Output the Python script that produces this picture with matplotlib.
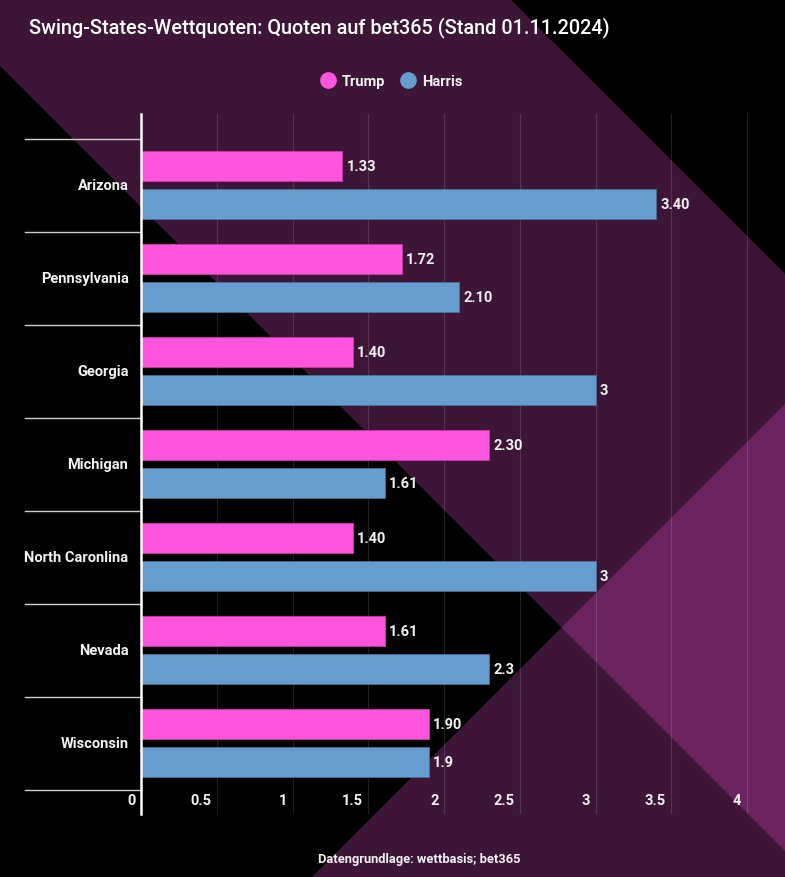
import numpy as np
import matplotlib
matplotlib.use("Agg")
import matplotlib.pyplot as plt
from matplotlib.lines import Line2D
import matplotlib.transforms as mtransforms

plt.rcParams['font.family'] = ['Roboto', 'DejaVu Sans']

# Daten
states = ["Arizona", "Pennsylvania", "Georgia", "Michigan", "North Caronlina", "Nevada", "Wisconsin"]
trump = [1.33, 1.72, 1.40, 2.30, 1.40, 1.61, 1.90]
harris = [3.40, 2.10, 3.0, 1.61, 3.0, 2.3, 1.9]
trump_labels = ["1.33", "1.72", "1.40", "2.30", "1.40", "1.61", "1.90"]
harris_labels = ["3.40", "2.10", "3", "1.61", "3", "2.3", "1.9"]
xticks = [0, 0.5, 1, 1.5, 2, 2.5, 3, 3.5, 4]
xtick_labels = ["0", "0.5", "1", "1.5", "2", "2.5", "3", "3.5", "4"]

PINK = "#ff55de"
BLUE = "#679dce"
DARK = "#3d1537"
BRIGHT = "#6b2460"
TXT = "#f2f2f2"

W, H = 785, 878
fig = plt.figure(figsize=(W / 100, H / 100), dpi=100, facecolor="black")

# Hintergrund: eigene Achse in Pixelkoordinaten (y von oben)
bg = fig.add_axes([0, 0, 1, 1], zorder=-5)
bg.set_xlim(0, W)
bg.set_ylim(H, 0)
bg.axis("off")
bg.fill([0, 510, 785, 785, 0], [0, 0, 275, 852, 67], color=DARK, lw=0)
bg.fill([312, 785, 785], [878, 405, 878], color=DARK, lw=0)
bg.fill([561.5, 785, 785], [628.5, 405, 852], color=BRIGHT, lw=0)

ax = fig.add_axes([141 / W, 1 - 815 / H, 1 - 141 / W, (815 - 115) / H])
ax.set_facecolor("none")

y = np.arange(len(states))
off = 0.205
hgt = 0.325
ax.barh(y - off, trump, height=hgt, color=PINK, edgecolor="#c83aa8", linewidth=0.6, zorder=3)
ax.barh(y + off, harris, height=hgt, color=BLUE, edgecolor="#4a6f98", linewidth=0.6, zorder=3)

for i in range(len(states)):
    ax.annotate(trump_labels[i], xy=(trump[i], y[i] - off), xytext=(3, 0), textcoords="offset points",
                va="center", ha="left", color=TXT, fontsize=10.5, fontweight="bold")
    ax.annotate(harris_labels[i], xy=(harris[i], y[i] + off), xytext=(3, 0), textcoords="offset points",
                va="center", ha="left", color=TXT, fontsize=10.5, fontweight="bold")

ax.set_xlim(0, (W - 141) / 151.5)
ax.set_ylim((815 - 186) / 93, -(186 - 115) / 93)

ax.set_xticks(xticks)
ax.set_xticklabels([])
ax.set_yticks([])
ax.tick_params(axis="x", length=0)
ax.xaxis.grid(True, color="white", alpha=0.13, linewidth=0.8)
ax.set_axisbelow(True)
for s in ["top", "right", "bottom"]:
    ax.spines[s].set_visible(False)
ax.spines["left"].set_color("white")
ax.spines["left"].set_linewidth(1.8)
ax.spines["left"].set_zorder(4)

for t, lab in zip(xticks, xtick_labels):
    ax.annotate(lab, xy=(t, 0), xycoords=("data", "axes fraction"), xytext=(-4, 5),
                textcoords="offset points", ha="right", va="bottom", color=TXT,
                fontsize=10.5, fontweight="bold")

# Kategorien und Trennlinien links
trans = mtransforms.blended_transform_factory(ax.transAxes, ax.transData)
x_left = (25 - 141) / (W - 141)
for b in np.arange(-0.5, len(states), 1.0):
    ax.plot([x_left, 0], [b, b], transform=trans, color="#d0d0d0", linewidth=1, clip_on=False)
for i, s in enumerate(states):
    ax.annotate(s, xy=(0, y[i]), xycoords=trans, xytext=(-9, 0), textcoords="offset points",
                ha="right", va="center", color=TXT, fontsize=10.5, fontweight="bold")

# Titel, Legende, Quelle
fig.text(29 / W, 1 - 28 / H, "Swing-States-Wettquoten: Quoten auf bet365 (Stand 01.11.2024)",
         color="white", fontsize=14.3, fontweight="medium", ha="left", va="center")

handles = [Line2D([], [], marker="o", linestyle="none", markersize=11, markerfacecolor=PINK, markeredgecolor=PINK),
           Line2D([], [], marker="o", linestyle="none", markersize=11, markerfacecolor=BLUE, markeredgecolor=BLUE)]
leg = fig.legend(handles, ["Trump", "Harris"], loc="center", bbox_to_anchor=(391.5 / W, 1 - 82 / H), ncol=2,
                 frameon=False, handletextpad=0.45, columnspacing=1.12, handlelength=1.0,
                 prop={"size": 10.5, "weight": "bold"})
for t in leg.get_texts():
    t.set_color(TXT)

fig.text(419 / W, 1 - 860 / H, "Datengrundlage: wettbasis; bet365", color=TXT, fontsize=9.3,
         fontweight="bold", ha="center", va="center")

fig.savefig("out.png", dpi=100, facecolor=fig.get_facecolor())
